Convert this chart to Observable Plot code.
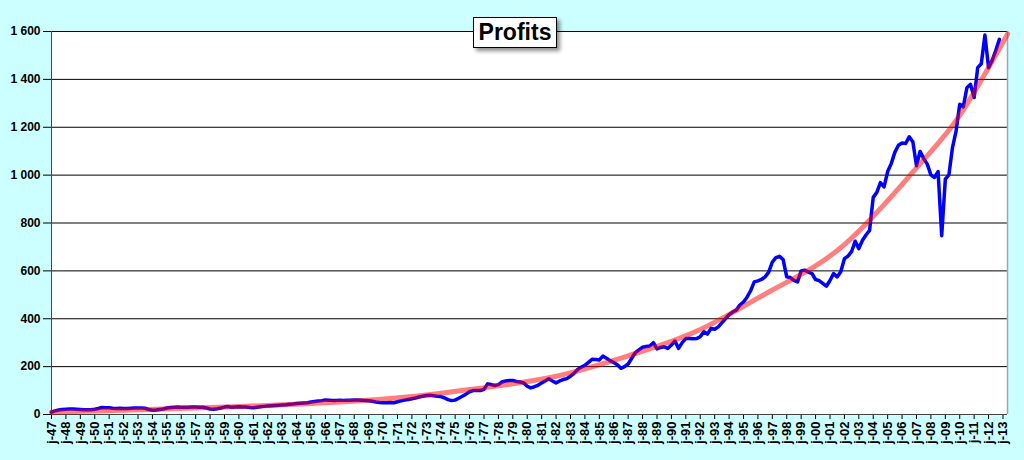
<!DOCTYPE html>
<html>
<head>
<meta charset="utf-8">
<script src="https://cdn.jsdelivr.net/npm/d3@7"></script>
<script src="https://cdn.jsdelivr.net/npm/@observablehq/plot@0.6"></script>
<style>
  html, body { margin: 0; padding: 0; background: #CCFFFF; }
  #wrap { position: relative; width: 1024px; height: 460px; background: #CCFFFF; overflow: hidden; }
  #wrap svg text { font-weight: bold; fill: #000; }
  #wrap svg g[aria-label="x-axis tick label"] text { font-size: 13px; }
  #title {
    position: absolute; left: 473px; top: 17px; width: 82px; height: 29px;
    background: #fff; border: 1px solid #000;
    box-shadow: 3px 3px 4px rgba(0,0,0,0.45);
    font-family: "Liberation Sans", Arial, sans-serif; font-weight: bold; font-size: 23px;
    line-height: 29px; text-align: center; color: #000; z-index: 2;
  }
</style>
</head>
<body>
<div id="wrap"><div id="title">Profits</div></div>
<script>
// Quarterly profits, first quarter of 1947 to last quarter of 2012
const startYear = 1947;
const profits = [
  10, 15, 19, 21,      // 1947
  22, 23, 23, 22,      // 1948
  21, 20, 20, 20,      // 1949
  22, 25, 29, 28,      // 1950
  28, 26, 25, 26,      // 1951
  25, 25, 26, 27,      // 1952
  27, 27, 26, 21,      // 1953
  18, 19, 21, 23,      // 1954
  27, 29, 30, 31,      // 1955
  30, 30, 30, 31,      // 1956
  31, 30, 30, 27,      // 1957
  23, 22, 24, 27,      // 1958
  31, 33, 30, 31,      // 1959
  32, 31, 31, 29,      // 1960
  28, 30, 32, 34,      // 1961
  36, 37, 38, 39,      // 1962
  40, 41, 43, 44,      // 1963
  46, 47, 48, 49,      // 1964
  52, 54, 56, 58,      // 1965
  61, 60, 59, 59,      // 1966
  60, 59, 60, 60,      // 1967
  61, 61, 60, 58,      // 1968
  57, 55, 52, 50,      // 1969
  49, 49, 50, 49,      // 1970
  53, 57, 60, 63,      // 1971
  66, 69, 73, 76,      // 1972
  79, 80, 78, 76,      // 1973
  75, 70, 62, 58,      // 1974
  60, 68, 76, 85,      // 1975
  95, 100, 100, 100,   // 1976
  105, 128, 125, 121,  // 1977
  125, 136, 140, 142,  // 1978
  142, 138, 136, 132,  // 1979
  118, 111, 116, 122,  // 1980
  132, 140, 149, 140,  // 1981
  132, 140, 146, 150,  // 1982
  160, 172, 188, 198,  // 1983
  205, 218, 231, 230,  // 1984
  228, 244, 235, 225,  // 1985
  217, 208, 193, 200,  // 1986
  211, 235, 258, 270,  // 1987
  281, 284, 286, 300,  // 1988
  274, 280, 283, 276,  // 1989
  290, 307, 276, 300,  // 1990
  317, 317, 316, 317,  // 1991
  325, 346, 336, 360,  // 1992
  356, 366, 383, 400,  // 1993
  417, 428, 436, 457,  // 1994
  470, 490, 517, 554,  // 1995
  558, 564, 575, 595,  // 1996
  637, 655, 661, 647,  // 1997
  575, 572, 560, 554,  // 1998
  600, 603, 595, 589,  // 1999
  564, 559, 548, 536,  // 2000
  560, 589, 575, 596,  // 2001
  651, 662, 680, 724,  // 2002
  693, 727, 750, 769,  // 2003
  907, 928, 969, 951,  // 2004
  1015, 1048, 1095, 1125, // 2005
  1134, 1132, 1160, 1139, // 2006
  1039, 1099, 1070, 1046, // 2007
  1001, 990, 1015, 747,   // 2008
  983, 1001, 1115, 1185,  // 2009
  1296, 1285, 1365, 1379, // 2010
  1324, 1449, 1465, 1585, // 2011
  1449, 1479, 1520, 1567  // 2012
];

// Trend line values at given (fractional) years
const trendYears  = [1947, 1952, 1957, 1962, 1967, 1972, 1977, 1982, 1987, 1992, 1997, 2002, 2007, 2010, 2013.32];
const trendValues = [10,   18,   27,   38,   52,   75,   112,  160,  245,  355,  520,  710,  1030, 1250, 1590];

const yTicks = [0, 200, 400, 600, 800, 1000, 1200, 1400, 1600];
const xLabelPrefix = "j-";

const xStart = new Date(Date.UTC(1947, 0, 1));
const xEnd = new Date(Date.UTC(2013, 3, 25));

const yearToDate = y => {
  const yr = Math.floor(y);
  const t0 = Date.UTC(yr, 0, 1), t1 = Date.UTC(yr + 1, 0, 1);
  return new Date(t0 + (y - yr) * (t1 - t0));
};

const data = profits.map((v, i) => ({
  date: new Date(Date.UTC(startYear + Math.floor(i / 4), (i % 4) * 3, 1)),
  value: v
}));
const trend = trendYears.map((y, i) => ({date: yearToDate(y), value: trendValues[i]}));

const yearTicks = d3.utcYear.range(xStart, xEnd);
const fmtThousands = d3.formatLocale({decimal: ",", thousands: "\u00a0", grouping: [3], currency: ["", ""]}).format(",");

const chart = Plot.plot({
  width: 1024,
  height: 460,
  marginLeft: 51,
  marginRight: 17,
  marginTop: 31,
  marginBottom: 46,
  style: {background: "transparent", fontFamily: "'Liberation Sans', Arial, sans-serif", fontSize: "12px", color: "#000"},
  x: {
    type: "utc", domain: [xStart, xEnd], ticks: yearTicks,
    tickFormat: d => xLabelPrefix + d3.utcFormat("%y")(d),
    tickRotate: -90, tickSize: 5, tickPadding: 2, label: null
  },
  y: {
    domain: [0, 1600], ticks: yTicks, tickFormat: d => fmtThousands(d),
    tickSize: 8, tickPadding: 3, label: null
  },
  marks: [
    Plot.frame({fill: "white", stroke: null}),
    Plot.gridY(yTicks.filter(d => d > 0), {stroke: "#000", strokeOpacity: 1, strokeWidth: 1}),
    Plot.ruleX([xEnd], {stroke: "#9aa", strokeWidth: 1.5}),
    Plot.ruleX([xStart], {stroke: "#444", strokeWidth: 1}),
    Plot.ruleY([0], {stroke: "#444", strokeWidth: 1}),
    Plot.lineY(data, {x: "date", y: "value", stroke: "#0000ff", strokeWidth: 3.5, strokeLinejoin: "round"}),
    Plot.lineY(trend, {x: "date", y: "value", stroke: "#ff0000", strokeOpacity: 0.5, strokeWidth: 5, curve: "natural"})
  ]
});
document.getElementById("wrap").appendChild(chart);
</script>
</body>
</html>
